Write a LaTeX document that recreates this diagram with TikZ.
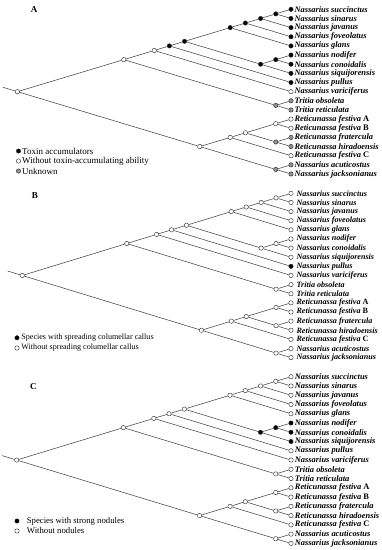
\documentclass[tikz,border=0pt]{standalone}
\usepackage{fontspec}
\setmainfont{Liberation Serif}
\usetikzlibrary{positioning}
\usepackage{xcolor}
\definecolor{branchgray}{RGB}{70,70,70}
\definecolor{unknowngray}{RGB}{145,145,145}

% taxa from top to bottom
\newcommand{\taxa}{Nassarius succinctus, Nassarius sinarus, Nassarius javanus,
  Nassarius foveolatus, Nassarius glans, Nassarius nodifer, Nassarius conoidalis,
  Nassarius siquijorensis, Nassarius pullus, Nassarius variciferus,
  Tritia obsoleta, Tritia reticulata, Reticunassa festiva \textup{A},
  Reticunassa festiva \textup{B}, Reticunassa fratercula, Reticunassa hiradoensis,
  Reticunassa festiva \textup{C}, Nassarius acuticostus, Nassarius jacksonianus}

% #1 prefix, #2 y of top tip, #3 tip spacing, #4 x per tip spanned,
% #5 tip fills, #6 node fills, #7 gap before label
\newcommand{\cladogram}[7]{%
  \foreach \name [count=\i from 0] in \taxa {
    \pgfmathsetmacro\fillc{{#5}[\i]}
    \node[dot, fill=\fillc] (#1t\i) at (291, {#2+\i*#3}) {};
    \node[taxon, right=#7 of #1t\i] (#1l\i) {\name};
  }
  \foreach \n/\hi/\lo [count=\k from 0] in {root/0/18, n1/0/11, n2/0/9, n3/0/8,
      n4/0/7, n5/0/4, n6/0/3, n7/0/2, n8/0/1, g1/5/7, g2/5/6, tr/10/11,
      r1/12/18, r2/12/16, r3/12/15, r4/12/13, r5/14/15, r6/17/18} {
    \pgfmathsetmacro\fillc{{#6}[\k]}
    \node[dot, fill=\fillc] (#1\n) at ({291-(\lo-\hi)*#4}, {#2+(\hi+\lo)/2*#3}) {};
  }
  \foreach \p/\c in {root/n1, root/r1, n1/n2, n1/tr, n2/n3, n2/t9, n3/n4, n3/t8,
      n4/n5, n4/g1, n5/n6, n5/t4, n6/n7, n6/t3, n7/n8, n7/t2, n8/t0, n8/t1,
      g1/g2, g1/t7, g2/t5, g2/t6, tr/t10, tr/t11, r1/r2, r1/r6, r2/r3, r2/t16,
      r3/r4, r3/r5, r4/t12, r4/t13, r5/t14, r5/t15, r6/t17, r6/t18}
    \draw[branch] (#1\p) -- (#1\c);
  \draw[branch] (#1root) -- ++(-14.5,-4.4);
}

\begin{document}
\begin{tikzpicture}[
  x=1pt, y=-1pt,
  dot/.style={circle, draw=black!85, line width=0.4pt, minimum size=4.4pt, inner sep=0pt},
  branch/.style={draw=branchgray, line width=0.55pt},
  taxon/.style={inner sep=0.3pt, font=\fontsize{8.4}{9}\selectfont\bfseries\itshape},
  legend/.style={inner sep=0.3pt, font=\fontsize{9}{10}\selectfont},
  panel/.style={font=\fontsize{9}{10}\selectfont\bfseries}
]
\useasboundingbox (0,0) rectangle (381,550);

% A: toxin accumulation
\node[panel] (labA) at (34,10) {A};
\cladogram{A-}{9.3}{9.15}{15.2}%
  {"black","black","black","black","black","black","black","black","black","white",
   "unknowngray","unknowngray","white","white","unknowngray","unknowngray","white",
   "unknowngray","unknowngray"}%
  {"white","white","white","black","black","black","black","black","black","black",
   "black","unknowngray","white","white","white","white","unknowngray","unknowngray"}%
  {0.6pt}
\node[dot, fill=black] (A-k) at (18.5,151) {};
\node[legend, right=0.8pt of A-k] (A-kt) {Toxin accumulators};
\node[dot, fill=white] (A-w) at (18.5,161) {};
\node[legend, right=0.8pt of A-w] (A-wt) {Without toxin-accumulating ability};
\node[dot, fill=unknowngray] (A-g) at (18.5,171) {};
\node[legend, right=0.8pt of A-g] (A-gt) {Unknown};

% B: spreading columellar callus
\node[panel] (labB) at (35,195.7) {B};
\begin{scope}[taxon/.append style={font=\fontsize{8.1}{9}\selectfont\bfseries\itshape}]
\cladogram{B-}{193.3}{9.13}{14.93}%
  {"white","white","white","white","white","white","white","white","black","white",
   "white","white","white","white","white","white","white","white","white"}%
  {"white","white","white","white","white","white","white","white","white","white",
   "white","white","white","white","white","white","white","white"}%
  {2.6pt}
\end{scope}
\node[dot, fill=black] (B-k) at (17,337.8) {};
\node[legend, right=1.5pt of B-k, font=\fontsize{8.1}{9}\selectfont] (B-kt) {Species with spreading columellar callus};
\node[dot, fill=white] (B-w) at (17,348) {};
\node[legend, right=1.5pt of B-w, font=\fontsize{8.1}{9}\selectfont] (B-wt) {Without spreading columellar callus};

% C: strong nodules
\node[panel] (labC) at (33.3,386.7) {C};
\cladogram{C-}{376.7}{9.26}{15.24}%
  {"white","white","white","white","white","black","black","black","white","white",
   "white","white","white","white","white","white","white","white","white"}%
  {"white","white","white","white","white","white","white","white","white","black",
   "black","white","white","white","white","white","white","white"}%
  {1pt}
\node[dot, fill=black] (C-k) at (17,521) {};
\node[legend, right=7pt of C-k, font=\fontsize{8.7}{10}\selectfont] (C-kt) {Species with strong nodules};
\node[dot, fill=white] (C-w) at (17,531) {};
\node[legend, right=7pt of C-w, font=\fontsize{8.7}{10}\selectfont] (C-wt) {Without nodules};

\end{tikzpicture}
\end{document}
